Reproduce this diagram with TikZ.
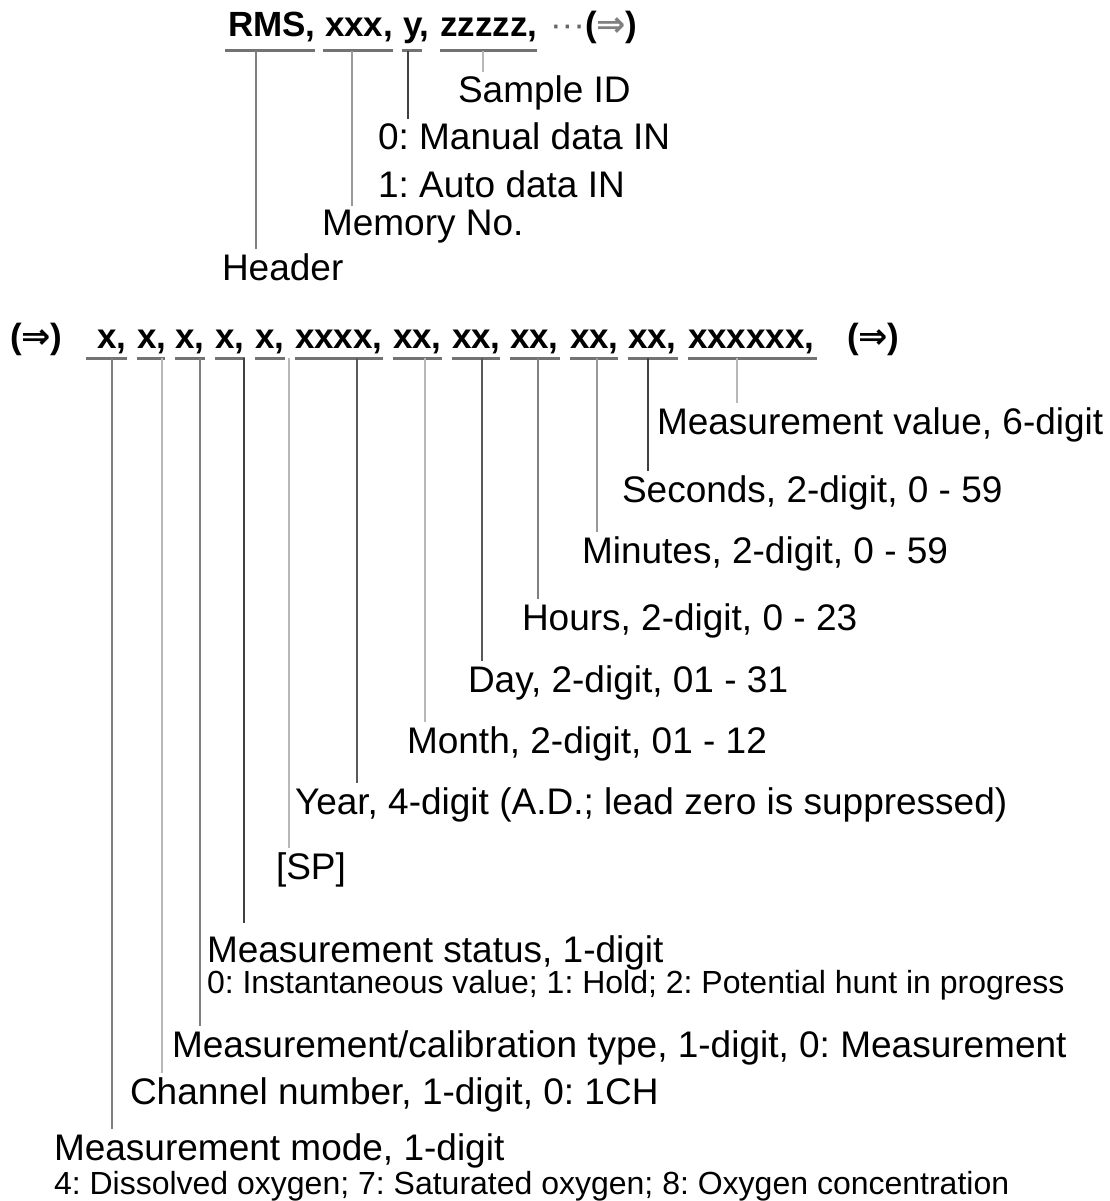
\documentclass[tikz,border=0pt]{standalone}
\usepackage{fontspec}
\setmainfont{Liberation Sans}
\newfontfamily\arrowfont{DejaVu Sans}
\frenchspacing
\definecolor{ulc}{gray}{0.45}
\definecolor{lkA}{gray}{0.25}
\definecolor{lkB}{gray}{0.35}
\definecolor{lkC}{gray}{0.5}
\definecolor{lkD}{gray}{0.6}
\definecolor{lkE}{gray}{0.72}
\newcommand{\darr}{{\arrowfont\bfseries ⇒}}
\begin{document}
\begin{tikzpicture}[x=1pt,y=-1pt,
  lbl/.style={anchor=base west, inner sep=0pt, outer sep=0pt, font=\fontsize{37}{44}\selectfont},
  sublbl/.style={anchor=base west, inner sep=0pt, outer sep=0pt, font=\fontsize{32}{38}\selectfont},
  code/.style={anchor=base west, inner sep=0pt, outer sep=0pt, font=\fontsize{35}{42}\selectfont\bfseries},
  uline/.style={draw=ulc, line width=3pt},
  tick/.style={line width=2pt, shorten >=4pt}]
\useasboundingbox (0,0) rectangle (1110,1201);

% ---------- top code line ----------
\node[code] (cRMS) at (228,37) {RMS,};
\node[code] (cxxx) at (325,37) {xxx,};
\node[code] (cy)   at (403,37) {y,};
\node[code] (cz)   at (440,37) {zzzzz,};
\node[code, text=gray!80!black] (cdots) at (550,37) {\mdseries ···};
\node[code] (carr1) at (585,37) {(\textcolor{gray}{\darr})};

\draw[uline] (225,51) -- (315,51);
\draw[uline] (323,51) -- (393,51);
\draw[uline] (402,51) -- (422,51);
\draw[uline] (440,51) -- (537,51);

\coordinate (tH) at (256,51);
\coordinate (tM) at (352,51);
\coordinate (tY) at (408,51);
\coordinate (tS) at (483,51);

\node[lbl] (sid)  at (458,103) {Sample ID};
\node[lbl] (man)  at (378,150) {0: Manual data IN};
\node[lbl] (auto) at (378,197) {1: Auto data IN};
\node[lbl] (mem)  at (322,235) {Memory No.};
\node[lbl] (hdr)  at (222,280) {Header};

\draw[tick, draw=lkC] (tH) -- (tH |- hdr.north);
\draw[tick, draw=lkD] (tM) -- (tM |- mem.north);
\draw[tick, draw=lkA] (tY) -- (tY |- man.north);
\draw[tick, draw=lkE] (tS) -- (tS |- sid.north);

% ---------- middle code line ----------
\node[code] (carr2) at (10,348) {(\darr)};
\node[code] (f1) at (97,348) {x,};
\node[code] (f2) at (137,348) {x,};
\node[code] (f3) at (175,348) {x,};
\node[code] (f4) at (215,348) {x,};
\node[code] (f5) at (255,348) {x,};
\node[code] (f6) at (295,348) {xxxx,};
\node[code] (f7) at (393,348) {xx,};
\node[code] (f8) at (452,348) {xx,};
\node[code] (f9) at (510,348) {xx,};
\node[code] (f10) at (570,348) {xx,};
\node[code] (f11) at (628,348) {xx,};
\node[code] (f12) at (688,348) {xxxxxx,};
\node[code] (carr3) at (847,348) {(\darr)};

\draw[uline] (86,358) -- (127,358);
\draw[uline] (137,358) -- (165,358);
\draw[uline] (175,358) -- (205,358);
\draw[uline] (215,358) -- (245,358);
\draw[uline] (255,358) -- (285,358);
\draw[uline] (295,358) -- (383,358);
\draw[uline] (393,358) -- (442,358);
\draw[uline] (452,358) -- (500,358);
\draw[uline] (510,358) -- (560,358);
\draw[uline] (570,358) -- (618,358);
\draw[uline] (628,358) -- (678,358);
\draw[uline] (688,358) -- (817,358);

\coordinate (t1) at (112,358);
\coordinate (t2) at (162,358);
\coordinate (t3) at (200,358);
\coordinate (t4) at (244,358);
\coordinate (t5) at (289,358);
\coordinate (t6) at (357,358);
\coordinate (t7) at (425,358);
\coordinate (t8) at (482,358);
\coordinate (t9) at (538,358);
\coordinate (t10) at (597,358);
\coordinate (t11) at (648,358);
\coordinate (t12) at (737,358);

\node[lbl] (mval) at (657,434) {Measurement value, 6-digit};
\node[lbl] (sec)  at (622,502) {Seconds, 2-digit, 0 - 59};
\node[lbl] (mins) at (582,563) {Minutes, 2-digit, 0 - 59};
\node[lbl] (hrs)  at (522,630) {Hours, 2-digit, 0 - 23};
\node[lbl] (day)  at (468,692) {Day, 2-digit, 01 - 31};
\node[lbl] (mon)  at (407,753) {Month, 2-digit, 01 - 12};
\node[lbl] (year) at (295,814) {Year, 4-digit (A.D.; lead zero is suppressed)};
\node[lbl] (sp)   at (276,879) {[SP]};
\node[lbl] (stat) at (207,962) {Measurement status, 1-digit};
\node[sublbl] (statsub) at (207,993) {0: Instantaneous value; 1: Hold; 2: Potential hunt in progress};
\node[lbl] (calib) at (172,1057) {Measurement/calibration type, 1-digit, 0: Measurement};
\node[lbl] (chan) at (130,1104) {Channel number, 1-digit, 0: 1CH};
\node[lbl] (mode) at (54,1160) {Measurement mode, 1-digit};
\node[sublbl] (modesub) at (54,1194) {4: Dissolved oxygen; 7: Saturated oxygen; 8: Oxygen concentration};

\draw[tick, draw=lkC] (t1) -- (t1 |- mode.north);
\draw[tick, draw=lkE] (t2) -- (t2 |- chan.north);
\draw[tick, draw=lkC] (t3) -- (t3 |- calib.north);
\draw[tick, draw=lkA, shorten >=12pt] (t4) -- (t4 |- stat.north);
\draw[tick, draw=lkE] (t5) -- (t5 |- sp.north);
\draw[tick, draw=lkB] (t6) -- (t6 |- year.north);
\draw[tick, draw=lkE] (t7) -- (t7 |- mon.north);
\draw[tick, draw=lkB] (t8) -- (t8 |- day.north);
\draw[tick, draw=lkC] (t9) -- (t9 |- hrs.north);
\draw[tick, draw=lkD] (t10) -- (t10 |- mins.north);
\draw[tick, draw=lkA] (t11) -- (t11 |- sec.north);
\draw[tick, draw=lkE] (t12) -- (t12 |- mval.north);
\end{tikzpicture}
\end{document}
